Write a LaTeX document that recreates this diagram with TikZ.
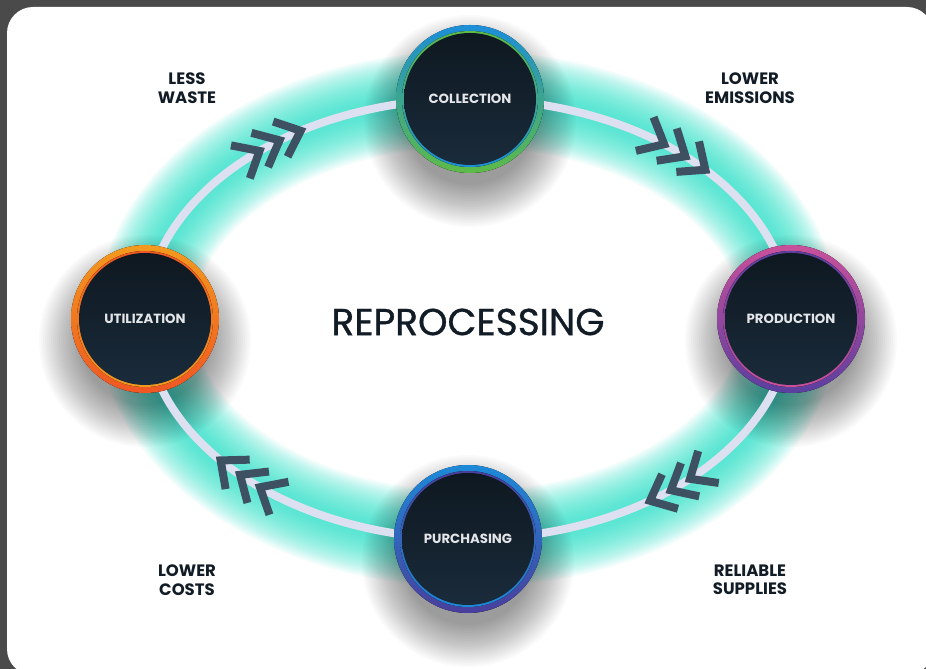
\documentclass[tikz,border=0pt]{standalone}
\usepackage{fontspec}
\setmainfont{Poppins}
\definecolor{bgdark}{HTML}{4A4A4A}
\definecolor{glowc}{HTML}{2EE6CC}
\definecolor{ringline}{HTML}{DCE0F0}
\definecolor{chevc}{HTML}{3D5163}
\definecolor{txtdark}{HTML}{111C26}
\definecolor{disctop}{HTML}{0E1820}
\definecolor{discbot}{HTML}{1A2B3B}
\definecolor{disctxt}{HTML}{E4E6EA}
\definecolor{colA}{HTML}{1B8ED8}
\definecolor{colB}{HTML}{5DBB46}
\definecolor{proA}{HTML}{C9509B}
\definecolor{proB}{HTML}{5B3F9F}
\definecolor{utiA}{HTML}{F39A1E}
\definecolor{utiB}{HTML}{EF5623}
\definecolor{purA}{HTML}{1C8AD8}
\definecolor{purB}{HTML}{4A3E9C}
\tikzset{
  disc/.style={circle, minimum size=132pt, inner sep=0pt, top color=disctop, bottom color=discbot,
    text=disctxt, font=\bfseries\fontsize{13.3}{15}\selectfont},
  lbl/.style={align=center, text=txtdark, font=\bfseries\fontsize{16.5}{18.5}\selectfont},
  chev/.style={chevc, line width=8pt, miter limit=10, line join=miter, line cap=butt},
  ringpath/.style={ringline, line width=8pt},
}
\newcommand\stagecircle[6]{%
  \fill[top color=#4, bottom color=#5] (#2,#3) circle (74);
  \fill[top color=#5, bottom color=#4] (#2,#3) circle (68);
  \node[disc] (#1) at (#2,#3) {#6};
}
\begin{document}
\begin{tikzpicture}[x=1pt,y=1pt]
\useasboundingbox (0,0) rectangle (926,669);
\fill[bgdark] (0,0) rectangle (926,669);
\fill[white, rounded corners=26pt] (7,-6) rectangle (933,662);
% glow
\foreach \w in {96,92,...,6}
  \draw[glowc, opacity=0.062, line width=\w pt] (468,350) ellipse [x radius=323, y radius=220];
% shadows
\foreach \cx/\cy in {470/570,791/350,468/130,145/350}
  \foreach \r in {106,104,...,64}
    \fill[black, opacity=0.021] (\cx,\cy-22) circle (\r);
% ring line
\draw[ringpath] (468,350) ellipse [x radius=323, y radius=220];
% chevrons
\foreach \t in {130,125.5,121, 52.4,47.5,42.5, -46.8,-51.3,-55.9, 219.8,224.9,229.7}{
  \pgfmathsetmacro\ang{atan2(-220*cos(\t),323*sin(\t))}
  \begin{scope}[shift={({468+323*cos(\t)},{350+220*sin(\t)})}, rotate=\ang]
    \draw[chev] (-23,19) -- (-1,0) -- (-23,-19);
  \end{scope}
}
% stages
\stagecircle{coll}{470}{570}{colA}{colB}{COLLECTION}
\stagecircle{prod}{791}{350}{proA}{proB}{PRODUCTION}
\stagecircle{purch}{468}{130}{purA}{purB}{PURCHASING}
\stagecircle{util}{145}{350}{utiA}{utiB}{UTILIZATION}
% title
\node[text=txtdark, font=\addfontfeatures{FakeBold=0.8}\fontsize{37.5}{42}\selectfont] (title) at (468,347) {REPROCESSING};
% labels
\node[lbl] (l1) at (187,581) {LESS\\WASTE};
\node[lbl] (l2) at (750,581) {LOWER\\EMISSIONS};
\node[lbl] (l3) at (187,89) {LOWER\\COSTS};
\node[lbl] (l4) at (750,89) {RELIABLE\\SUPPLIES};
\end{tikzpicture}
\end{document}
